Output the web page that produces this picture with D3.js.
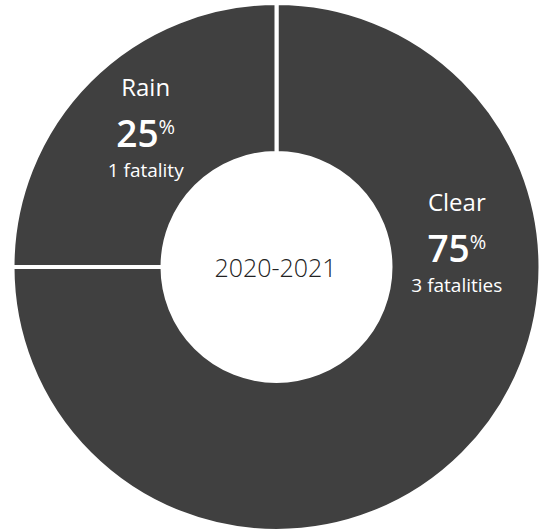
<!DOCTYPE html>
<html>
<head>
<meta charset="utf-8">
<script src="https://cdn.jsdelivr.net/npm/d3@7"></script>
<style>
  html, body { margin: 0; padding: 0; background: #fff; }
  svg { display: block; }
  text { font-family: "Open Sans", "Noto Sans", sans-serif; }
</style>
</head>
<body>
<svg id="chart" width="543" height="531"></svg>
<script>
// ---- data ----
const categories = ["Clear", "Rain"];
const fatalities = [3, 1];
const percentLabels = ["75", "25"];
const fatalityLabels = ["3 fatalities", "1 fatality"];
const centerLabel = "2020-2021";

// ---- layout ----
const W = 543, H = 531;
const cx = 276.5, cy = 267;
const outerR = 264, innerR = 114;
const labelPlacement = { Clear: { angle: 85, r: 181 }, Rain: { angle: 315, r: 185 } };

const svg = d3.select("#chart");
const g = svg.append("g").attr("transform", `translate(${cx},${cy})`);

const pie = d3.pie().sort(null).value(d => d.value);
const data = categories.map((c, i) => ({ name: c, value: fatalities[i], pct: percentLabels[i], lab: fatalityLabels[i] }));
const arcs = pie(data);

const arc = d3.arc().innerRadius(innerR).outerRadius(outerR);

g.selectAll("path.slice")
  .data(arcs)
  .join("path")
  .attr("class", "slice")
  .attr("d", arc)
  .attr("fill", "#404040")
  .attr("stroke", "#ffffff")
  .attr("stroke-width", 4)
  .attr("stroke-linejoin", "miter");

// labels
const lbl = g.selectAll("g.lbl")
  .data(arcs)
  .join("g")
  .attr("class", "lbl")
  .attr("transform", d => {
    const p = labelPlacement[d.data.name];
    const a = p.angle * Math.PI / 180;
    return `translate(${p.r * Math.sin(a)},${-p.r * Math.cos(a)})`;
  });

lbl.append("text")
  .attr("text-anchor", "middle")
  .attr("y", -40)
  .attr("fill", "#fff")
  .attr("font-size", 24)
  .text(d => d.data.name);

const pt = lbl.append("text")
  .attr("text-anchor", "middle")
  .attr("y", 11)
  .attr("fill", "#fff");
pt.append("tspan")
  .attr("font-size", 37)
  .attr("font-weight", 600)
  .text(d => d.data.pct);
pt.append("tspan")
  .attr("font-size", 20)
  .attr("dy", -13)
  .text("%");

lbl.append("text")
  .attr("text-anchor", "middle")
  .attr("y", 41)
  .attr("fill", "#fff")
  .attr("font-size", 19)
  .text(d => d.data.lab);

// center label
g.append("text")
  .attr("text-anchor", "middle")
  .attr("x", -1)
  .attr("y", 10)
  .attr("fill", "#222")
  .attr("font-size", 25)
  .attr("font-weight", 300)
  .text(centerLabel);
</script>
</body>
</html>
